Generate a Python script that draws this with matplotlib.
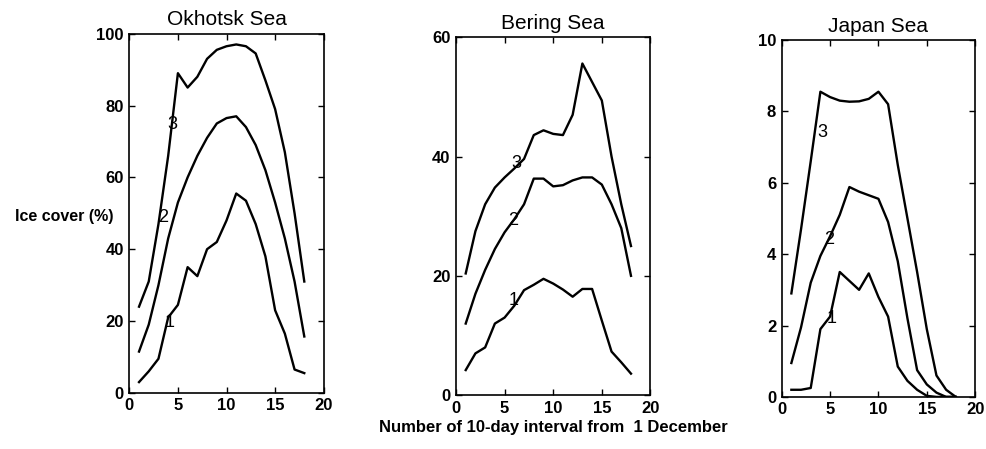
import numpy as np
import matplotlib
matplotlib.use('Agg')
import matplotlib.pyplot as plt

plt.rcParams['font.family'] = ['Liberation Sans', 'DejaVu Sans']

# 10-day interval number, from 1 December
x = np.arange(1, 19)

# Okhotsk Sea ice cover (%), curves 1, 2, 3
okhotsk_1 = [3, 6, 9.5, 21, 24.5, 35, 32.5, 40, 42, 48, 55.5, 53.5, 47, 38, 23, 16.5, 6.5, 5.5]
okhotsk_2 = [11.5, 19, 30, 43, 53, 60, 66, 71, 75, 76.5, 77, 74, 69, 62, 53, 43, 31, 15.7]
okhotsk_3 = [24, 31, 47, 66, 89, 85, 88, 93, 95.5, 96.5, 97, 96.5, 94.5, 87, 79, 67, 50, 31]

# Bering Sea
bering_1 = [4.2, 7, 8, 12, 13, 15, 17.6, 18.5, 19.5, 18.7, 17.7, 16.5, 17.8, 17.8, 12.5, 7.3, 5.5, 3.6]
bering_2 = [12, 17, 21, 24.5, 27.3, 29.5, 32, 36.3, 36.3, 35, 35.2, 36, 36.5, 36.5, 35.3, 32, 28, 20]
bering_3 = [20.4, 27.5, 32, 34.8, 36.5, 38, 39.6, 43.6, 44.4, 43.8, 43.6, 47, 55.6, 52.5, 49.4, 40, 32, 25]

# Japan Sea
japan_1 = [0.2, 0.2, 0.25, 1.9, 2.25, 3.5, 3.25, 3.0, 3.46, 2.8, 2.25, 0.85, 0.45, 0.2, 0.03, 0, 0, 0]
japan_2 = [0.95, 1.95, 3.2, 3.95, 4.5, 5.1, 5.88, 5.75, 5.65, 5.55, 4.9, 3.8, 2.2, 0.75, 0.35, 0.12, 0, 0]
japan_3 = [2.9, 4.7, 6.6, 8.55, 8.4, 8.3, 8.27, 8.28, 8.35, 8.55, 8.2, 6.5, 5.0, 3.5, 1.9, 0.6, 0.2, 0]

titles = ['Okhotsk Sea', 'Bering Sea', 'Japan Sea']
series = [(okhotsk_1, okhotsk_2, okhotsk_3),
          (bering_1, bering_2, bering_3),
          (japan_1, japan_2, japan_3)]
ymax = [100, 60, 10]
ystep = [20, 20, 2]
# where the curve numbers sit, (x, y) for 1, 2, 3
label_pos = [[(4.1, 19.5), (3.5, 48.7), (4.4, 74.7)],
             [(5.9, 15.9), (5.9, 29.3), (6.2, 38.9)],
             [(5.2, 2.2), (4.9, 4.4), (4.25, 7.4)]]

fig = plt.figure(figsize=(9.87, 4.49), dpi=100)
rects = [[0.131, 0.125, 0.197, 0.80],
         [0.462, 0.120, 0.197, 0.797],
         [0.792, 0.116, 0.196, 0.795]]

for i in range(3):
    ax = fig.add_axes(rects[i])
    for ys in series[i]:
        ax.plot(x, ys, c='k', lw=1.7)
    for n, (lx, ly) in enumerate(label_pos[i]):
        ax.text(lx, ly, str(n + 1), fontsize=13, ha='center', va='center')
    ax.set_xlim(0, 20)
    ax.set_ylim(0, ymax[i])
    ax.set_xticks([0, 5, 10, 15, 20])
    ax.set_yticks(np.arange(0, ymax[i] + 1, ystep[i]))
    ax.tick_params(direction='in', length=4, width=1, top=True, right=True,
                   labelsize=12, pad=4)
    for lab in ax.get_xticklabels() + ax.get_yticklabels():
        lab.set_fontweight('bold')
    for s in ax.spines.values():
        s.set_linewidth(1.2)
    ax.set_title(titles[i], fontsize=15, pad=6)
    if i == 0:
        ax.set_ylabel('Ice cover (%)', fontsize=11.5, fontweight='bold', rotation=0,
                      ha='right', va='center')
        ax.yaxis.set_label_coords(-0.08, 0.49)
    if i == 1:
        ax.set_xlabel('Number of 10-day interval from  1 December', fontsize=12,
                      fontweight='bold', labelpad=3)

plt.savefig('out.png', dpi=100)
